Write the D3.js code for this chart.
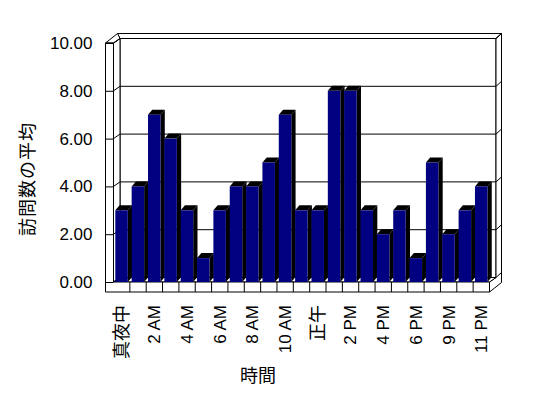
<!DOCTYPE html>
<html>
<head>
<meta charset="utf-8">
<script src="https://cdn.jsdelivr.net/npm/d3@7"></script>
<style>
  body { margin: 0; background: #fff; }
  text { font-family: "Liberation Sans Narrow", "Liberation Sans", Arial, "Noto Sans CJK JP", sans-serif; fill: #000; }
</style>
</head>
<body>
<svg width="548" height="398"></svg>
<script>
const hours = ['真夜中','1 AM','2 AM','3 AM','4 AM','5 AM','6 AM','7 AM','8 AM','9 AM','10 AM','11 AM',
  '正午','1 PM','2 PM','3 PM','4 PM','5 PM','6 PM','7 PM','9 PM','10 PM','11 PM']
const visits = [3, 4, 7, 6, 3, 1, 3, 4, 4, 5, 7, 3, 3, 8, 8, 3, 2, 3, 1, 5, 2, 3, 4]
const yTicks = [0, 2, 4, 6, 8, 10]
const xAxisLabel = '時間'
const yAxisLabel = '訪問数の平均'

const svg = d3.select('svg')

// box geometry (front plane + depth offsets)
const xL = 113.5, xR = 489.5, xLo = 105.5
const yT = 43, yB = 282, yBo = 292
const D = { x: 6.5, y: -4.5 }   // floor / wall depth
const T = { x: 5.5, y: -5 }     // back wall thickness
const B = { x: 4.3, y: -5 }     // column depth

const xScale = d3.scaleBand().domain(hours).range([xL, xR]).padding(0)
const yScale = d3.scaleLinear().domain([0, 10]).range([yB, yT])

const poly = pts => pts.map(p => p.join(',')).join(' ')
const box = svg.append('g')
  .attr('fill', '#fff').attr('stroke', '#000').attr('stroke-width', 1)

// back wall
box.append('rect')
  .attr('x', xL + D.x).attr('y', yT + D.y)
  .attr('width', xR - xL).attr('height', yB - yT)
box.append('polygon').attr('points', poly([
  [xL + D.x, yT + D.y], [xR + D.x, yT + D.y], [xR + D.x + T.x, yT + D.y + T.y], [xLo + D.x + T.x, yT + D.y + T.y]
]))
// right side of back wall + floor
box.append('polygon').attr('points', poly([
  [xR, yB], [xR + D.x, yB + D.y], [xR + D.x, yT + D.y], [xR + D.x + T.x, yT + D.y + T.y],
  [xR + D.x + T.x, yBo + D.y + T.y], [xR, yBo]
]))
// left wall inner face and top
box.append('polygon').attr('points', poly([
  [xL, yT], [xL + D.x, yT + D.y], [xL + D.x, yB + D.y], [xL, yB]
]))
box.append('polygon').attr('points', poly([
  [xLo, yT], [xL, yT], [xL + D.x, yT + D.y], [xLo + D.x + T.x, yT + D.y + T.y]
]))
// floor top
box.append('polygon').attr('points', poly([
  [xL, yB], [xR, yB], [xR + D.x, yB + D.y], [xL + D.x, yB + D.y]
]))
// front faces (left wall + floor)
box.append('polygon').attr('points', poly([
  [xLo, yT], [xL, yT], [xL, yB], [xR, yB], [xR, yBo], [xLo, yBo]
]))

// gridlines
const grid = svg.append('g').attr('stroke', '#000').attr('fill', 'none')
yTicks.forEach(v => {
  const y = yScale(v)
  grid.append('path').attr('d',
    `M${xL},${y}L${xL + D.x},${y + D.y}L${xR + D.x},${y + D.y}L${xR + D.x + T.x},${y + D.y + T.y}`)
})

// value axis on the left wall front
const yAxis = d3.axisLeft(yScale)
  .tickValues(yTicks)
  .tickFormat(d3.format('.2f'))
  .tickSizeInner(-(xL - xLo))
  .tickSizeOuter(0)
  .tickPadding(13)

svg.append('g')
  .attr('transform', `translate(${xLo},0)`)
  .call(yAxis)
  .call(g => g.select('.domain').remove())
  .call(g => g.selectAll('line').attr('stroke', '#000'))
  .call(g => g.selectAll('text').style('font-size', '17px'))

// category dividers on the floor front
svg.append('g').selectAll('line')
  .data(hours.slice(1))
  .join('line')
    .attr('x1', d => xScale(d)).attr('x2', d => xScale(d))
    .attr('y1', yB).attr('y2', yBo)
    .attr('stroke', '#000')

// columns
const bw = 12.5
const cols = svg.append('g')
hours.forEach((h, i) => {
  const x0 = xScale(h) + 1.8, x1 = x0 + bw
  const y = yScale(visits[i])
  cols.append('polygon').attr('fill', '#000').attr('points', poly([
    [x0, y], [x1, y], [x1 + B.x, y + B.y], [x0 + B.x, y + B.y]
  ]))
  cols.append('polygon').attr('fill', '#000').attr('points', poly([
    [x1, y], [x1 + B.x, y + B.y], [x1 + B.x, yB + B.y], [x1, yB]
  ]))
  cols.append('rect').attr('fill', '#000080')
    .attr('x', x0).attr('y', y).attr('width', bw).attr('height', yB - y)
})

// category labels, every other hour
const xAxis = d3.axisBottom(xScale)
  .tickValues(hours.filter((d, i) => i % 2 === 0))
  .tickSize(0)

svg.append('g')
  .attr('transform', `translate(0,${yBo})`)
  .call(xAxis)
  .call(g => g.select('.domain').remove())
  .call(g => g.selectAll('text')
    .attr('transform', 'rotate(-90)')
    .attr('text-anchor', 'end')
    .attr('x', -13).attr('y', 0).attr('dy', '0.35em')
    .style('font-size', d => /[^\x00-\x7f]/.test(d) ? '18px' : '17px'))

// axis titles
svg.append('text')
  .text(xAxisLabel)
  .attr('x', 258).attr('y', 377)
  .attr('text-anchor', 'middle').attr('dominant-baseline', 'middle')
  .style('font-size', '18px')

svg.append('text')
  .text(yAxisLabel)
  .attr('transform', 'translate(29,179) rotate(-90)')
  .attr('text-anchor', 'middle').attr('dominant-baseline', 'middle')
  .style('font-size', '18px')
  .style('letter-spacing', '1px')
</script>
</body>
</html>
